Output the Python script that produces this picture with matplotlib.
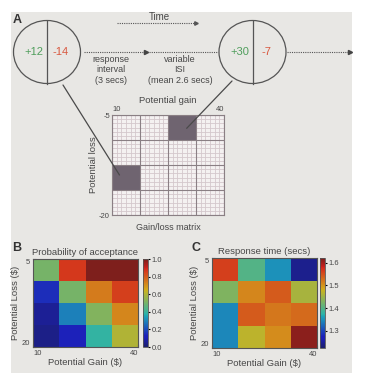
import numpy as np
import matplotlib
matplotlib.use("Agg")
import matplotlib.pyplot as plt
from matplotlib.patches import Rectangle, Ellipse, ConnectionPatch
from matplotlib.colors import ListedColormap

plt.rcParams['font.family'] = ['Liberation Sans', 'DejaVu Sans']

# --- data ---
trial_gains = [12, 30]
trial_losses = [-14, -7]
gain_range = [10, 40]
loss_range = [-5, -20]

gain_labels = ['10', '40']
loss_labels = ['5', '20']

p_accept = np.array([
    [0.50, 0.86, 0.99, 0.99],
    [0.15, 0.50, 0.74, 0.85],
    [0.06, 0.29, 0.52, 0.72],
    [0.04, 0.13, 0.39, 0.60],
])
p_ticks = [0.0, 0.2, 0.4, 0.6, 0.8, 1.0]

resp_time = np.array([
    [1.56, 1.40, 1.35, 1.245],
    [1.43, 1.51, 1.54, 1.455],
    [1.345, 1.54, 1.52, 1.53],
    [1.345, 1.47, 1.505, 1.61],
])
rt_ticks = [1.3, 1.4, 1.5, 1.6]

txt = '#474747'
green = '#4f9e5c'
red = '#d9583f'

# faded jet, like the printed figure
jet = plt.get_cmap('jet')(np.linspace(0, 1, 256))
rgb = jet[:, :3].copy()
jet[:, 0] = 0.11 + 0.72 * rgb[:, 0]
jet[:, 1] = 0.12 + 0.58 * rgb[:, 1]
jet[:, 2] = 0.11 + 0.62 * rgb[:, 2]
cmap = ListedColormap(np.clip(jet, 0, 1))

fig = plt.figure(figsize=(3.66, 3.82), dpi=100)
fig.patch.set_facecolor('white')

# overlay axes in pixel coords
ax0 = fig.add_axes([0, 0, 1, 1])
ax0.set_xlim(0, 366)
ax0.set_ylim(382, 0)
ax0.axis('off')
ax0.add_patch(Rectangle((11, 12), 341, 361, facecolor='#e8e7e4', edgecolor='none'))

# panel A
ax0.text(13, 20, 'A', fontsize=9, fontweight='bold', color='#333333', va='center')

for cx, g, l in [(47, trial_gains[0], trial_losses[0]), (252.5, trial_gains[1], trial_losses[1])]:
    ax0.add_patch(Ellipse((cx, 52), 67, 63, facecolor='none', edgecolor='#555555', lw=0.9))
    ax0.plot([cx, cx], [20.5, 83.5], color='#555555', lw=0.9)
    ax0.text(cx - 13, 52, '+%d' % g, color=green, fontsize=8, ha='center', va='center')
    ax0.text(cx + 14, 52, '%d' % l, color=red, fontsize=8, ha='center', va='center')

dot = dict(color='#555555', lw=0.8, ls=(0, (1, 1)))
ax0.plot([117, 195], [23, 23], **dot)
ax0.plot([196], [23], marker='>', ms=2.5, color='#555555')
ax0.text(159, 17, 'Time', fontsize=7, color=txt, ha='center', va='center')

ax0.plot([84, 145], [52, 52], **dot)
ax0.plot([146], [52], marker='>', ms=3, color='#444444')
ax0.plot([149, 218], [52, 52], **dot)
ax0.plot([287, 349], [52, 52], **dot)
ax0.plot([350], [52], marker='>', ms=3, color='#444444')

ax0.text(111, 70, 'response\ninterval\n(3 secs)', fontsize=6.5, color=txt,
         ha='center', va='center', linespacing=1.15)
ax0.text(180, 70, 'variable\nISI\n(mean 2.6 secs)', fontsize=6.5, color=txt,
         ha='center', va='center', linespacing=1.15)

# gain/loss matrix
axg = fig.add_axes([112 / 366, (382 - 215) / 382, 112 / 366, 100 / 382])
axg.set_xlim(gain_range)
axg.set_ylim(loss_range[1], loss_range[0])
axg.set_facecolor('#f4f1f1')
gx_major = np.linspace(gain_range[0], gain_range[1], 5)
gy_major = np.linspace(loss_range[0], loss_range[1], 5)
for x in np.linspace(gain_range[0], gain_range[1], 25):
    axg.axvline(x, color='#d4c8cc', lw=0.6)
for y in np.linspace(loss_range[0], loss_range[1], 25):
    axg.axhline(y, color='#d4c8cc', lw=0.6)
for g, l in zip(trial_gains, trial_losses):
    i = np.searchsorted(gx_major, g) - 1
    j = np.searchsorted(-gy_major, -l) - 1
    axg.add_patch(Rectangle((gx_major[i], gy_major[j + 1]), gx_major[i + 1] - gx_major[i],
                            gy_major[j] - gy_major[j + 1], facecolor='#6f6470',
                            edgecolor='none', zorder=2))
for x in gx_major:
    axg.axvline(x, color='#8a7f84', lw=0.8, zorder=3)
for y in gy_major:
    axg.axhline(y, color='#8a7f84', lw=0.8, zorder=3)
for s in axg.spines.values():
    s.set_color('#8a7f84')
    s.set_linewidth(0.8)
axg.xaxis.tick_top()
axg.set_xticks(gain_range, gain_labels)
axg.set_yticks(loss_range, [str(v) for v in loss_range])
axg.tick_params(length=0, labelsize=5.5, labelcolor=txt, pad=1.5)
xt = axg.get_xticklabels()
xt[0].set_ha('left')
xt[1].set_ha('right')
axg.set_xlabel('Potential gain', fontsize=6.8, color=txt, labelpad=2)
axg.xaxis.set_label_position('top')
axg.set_ylabel('Potential loss', fontsize=6.8, color=txt, labelpad=1)
axg.text(0.5, -0.08, 'Gain/loss matrix', transform=axg.transAxes, fontsize=6.5,
         color=txt, ha='center', va='top')

for (sx, sy), g, l in [((63, 85), trial_gains[0], trial_losses[0]),
                       ((232, 81), trial_gains[1], trial_losses[1])]:
    con = ConnectionPatch(xyA=(sx, sy), coordsA=ax0.transData, xyB=(g, l),
                          coordsB=axg.transData, color='#4a4a4a', lw=0.9, zorder=5)
    fig.add_artist(con)


def heat(rect, crect, data, vmin, vmax, ticks, tfmt, title, letter, lx):
    ax = fig.add_axes([rect[0] / 366, (382 - rect[3]) / 382, (rect[2] - rect[0]) / 366,
                       (rect[3] - rect[1]) / 382])
    m = ax.pcolormesh(np.arange(5), np.arange(5), data, cmap=cmap, vmin=vmin, vmax=vmax)
    ax.set_xlim(0, 4)
    ax.set_ylim(4, 0)
    ax.set_xticks([0, 4], gain_labels)
    ax.set_yticks([0, 4], loss_labels)
    ax.tick_params(direction='in', length=2, labelsize=5.5, labelcolor=txt, color='#555555', pad=2)
    xt = ax.get_xticklabels()
    xt[0].set_ha('left')
    xt[1].set_ha('right')
    yt = ax.get_yticklabels()
    yt[0].set_va('top')
    yt[1].set_va('bottom')
    for s in ax.spines.values():
        s.set_color('#555555')
        s.set_linewidth(0.8)
    ax.set_xlabel('Potential Gain ($)', fontsize=6.8, color=txt, labelpad=1)
    ax.set_ylabel('Potential Loss ($)', fontsize=6.8, color=txt, labelpad=1)
    ax.set_title(title, fontsize=6.8, color=txt, pad=3)
    ax0.text(lx, 248, letter, fontsize=9, fontweight='bold', color='#333333', va='center')
    cax = fig.add_axes([crect[0] / 366, (382 - rect[3]) / 382, (crect[1] - crect[0]) / 366,
                        (rect[3] - rect[1]) / 382])
    cb = fig.colorbar(m, cax=cax)
    cb.set_ticks(ticks, labels=[tfmt % t for t in ticks])
    cb.ax.tick_params(length=1.5, labelsize=5.5, labelcolor=txt, pad=1)
    cb.outline.set_linewidth(0.6)
    cb.outline.set_edgecolor('#555555')


heat((33, 259, 138, 347), (143, 148), p_accept, 0.0, 1.0, p_ticks, '%.1f',
     'Probability of acceptance', 'B', 12)
heat((212, 258, 317, 348), (320, 325), resp_time, 1.225, 1.62, rt_ticks, '%.1f',
     'Response time (secs)', 'C', 191)

fig.savefig('out.png', dpi=100)
